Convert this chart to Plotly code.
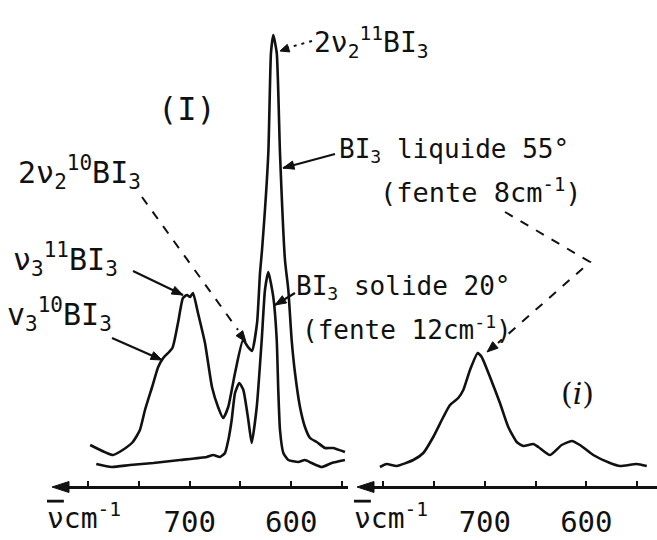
import math
import plotly.graph_objects as go

# ---------------- data (wavenumber cm-1, relative intensity) ----------------
# Panel (I): BI3 liquide 55 deg (fente 8 cm-1)
liq_nu = [798, 775.5, 766, 756, 749, 744, 737, 731, 726, 717, 711.5, 706.6, 702.6, 699.7,
          696.7, 691.8, 684.9, 678, 672, 667, 662, 655.3, 647.4, 642.5, 638.6, 633.6, 630.7,
          628.7, 622.5, 619.9, 617.6, 614.2, 611, 606.1, 602.8, 599.5, 596.2, 591.3, 586.4,
          581.4, 574.8, 566.7, 558.8, 547]
liq_int = [42, 32, 37, 45, 57, 77, 100, 120, 129, 139, 164, 189, 192, 190, 194, 174, 144, 100,
           80, 69, 80, 114, 147, 140, 136, 164, 214, 237, 334, 434, 452, 434, 334, 227, 197,
           147, 114, 80, 60, 49, 45, 39, 39, 35]

# Panel (I): BI3 solide 20 deg (fente 12 cm-1)
sol_nu = [792, 776.8, 758.8, 735.8, 709.5, 683.2, 676.7, 670.1, 665.2, 661.9, 658.6, 655.3,
          651.1, 647.1, 642.2, 638.9, 633.9, 629, 625.8, 622.5, 617.6, 614.2, 612.7, 611,
          607.7, 602.8, 593, 586.4, 579.8, 569.9, 560, 547]
sol_int = [23, 20, 22, 24, 27, 30, 32, 30, 34, 47, 67, 94, 104, 97, 67, 44, 80, 147, 197, 215,
           190, 147, 97, 57, 34, 27, 25, 27, 24, 20, 24, 27]

# Panel (i)
r_nu = [803.3, 796.7, 786.8, 770.5, 760.6, 750.8, 740.9, 734.3, 726.2, 721.2, 714.6, 707,
        703.1, 694.9, 685.1, 676.9, 668.6, 662.1, 652.3, 647.3, 635.8, 624.3, 614.4, 606.3,
        593.2, 576.7, 566.8, 550.4, 540.5]
r_int = [20, 23, 21, 27, 34, 50, 70, 82, 89, 97, 117, 134, 130, 110, 84, 60, 45, 41, 43, 40,
         32, 42, 46, 42, 32, 24, 21, 23, 21]

tick_vals = [700, 600]
tick_text = ["700", "600"]
minor_step = 50
axis_title = '<span style="text-decoration:overline">ν</span>cm<sup>-1</sup>'

# ---------------- figure ----------------
W, H = 657, 540
FONT = "DejaVu Sans Mono, monospace"
INK = "#111111"


def fx(p):
    return p / W


def fy(p):
    return 1 - p / H


fig = go.Figure()
line = dict(color=INK, width=2.6, shape="spline", smoothing=0.5)
fig.add_trace(go.Scatter(x=liq_nu, y=liq_int, mode="lines", line=line, xaxis="x", yaxis="y",
                         showlegend=False, hoverinfo="skip", cliponaxis=False))
fig.add_trace(go.Scatter(x=sol_nu, y=sol_int, mode="lines", line=line, xaxis="x", yaxis="y",
                         showlegend=False, hoverinfo="skip", cliponaxis=False))
fig.add_trace(go.Scatter(x=r_nu, y=r_int, mode="lines", line=line, xaxis="x2", yaxis="y",
                         showlegend=False, hoverinfo="skip", cliponaxis=False))

axis_common = dict(anchor="free", position=53 / H, showline=True, linewidth=2.6,
                   linecolor=INK, showgrid=False,
                   zeroline=False, tickmode="array", tickvals=tick_vals, ticktext=tick_text,
                   ticks="inside", ticklen=5, tickwidth=2, tickcolor=INK,
                   ticklabelstandoff=8,
                   minor=dict(ticks="inside", ticklen=5, tickwidth=2, tickcolor=INK,
                              tick0=0, dtick=minor_step, showgrid=False),
                   tickfont=dict(family=FONT, size=29, color=INK), fixedrange=True)

# axis lines run from the arrow tip (high wavenumber) to the low-wavenumber end
fig.update_layout(
    width=W, height=H, autosize=False,
    margin=dict(l=0, r=0, t=0, b=0, pad=0),
    paper_bgcolor="white", plot_bgcolor="white",
    xaxis=dict(domain=[58 / W, 348 / W], range=[829.7, 544.0], **axis_common),
    xaxis2=dict(domain=[363 / W, 1], range=[820.0, 530.4], **axis_common),
    yaxis=dict(domain=[0, 1], range=[-53, 487], visible=False, fixedrange=True),
)

ann = []
# axis titles
for cx in (84, 391):
    ann.append(dict(x=fx(cx), y=fy(516), xref="paper", yref="paper", text=axis_title,
                    showarrow=False, xanchor="center", yanchor="middle",
                    font=dict(family=FONT, size=28, color=INK)))


def text(t, x, y, size=26, xanchor="left"):
    ann.append(dict(x=fx(x), y=fy(y), xref="paper", yref="paper", text=t, showarrow=False,
                    xanchor=xanchor, yanchor="middle",
                    font=dict(family=FONT, size=size, color=INK)))


text("2ν<sub>2</sub><sup>11</sup>BI<sub>3</sub>", 312, 43, size=28)
text("(I)", 187, 109, size=32, xanchor="center")
text("2ν<sub>2</sub><sup>10</sup>BI<sub>3</sub>", 16, 172, size=30)
text("ν<sub>3</sub><sup>11</sup>BI<sub>3</sub>", 11, 260, size=30)
text("v<sub>3</sub><sup>10</sup>BI<sub>3</sub>", 5, 314, size=30)
text("BI<sub>3</sub> liquide 55°", 337, 150)
text("(fente 8cm<sup>-1</sup>)", 378, 190, size=27)
text("BI<sub>3</sub> solide 20°", 294, 287)
text("(fente 12cm<sup>-1</sup>)", 300, 328)
ann.append(dict(x=fx(577), y=fy(393), xref="paper", yref="paper", text="(<i>i</i>)",
                showarrow=False, xanchor="center", yanchor="middle",
                font=dict(family="DejaVu Serif, serif", size=30, color=INK)))
fig.update_layout(annotations=ann)


# ---------------- lines and arrowheads (pixel layout -> paper) ----------------
def path(pts, close=False):
    s = "M " + " L ".join(f"{fx(a):.5f},{fy(b):.5f}" for a, b in pts)
    return s + (" Z" if close else "")


shapes = []


def seg(pts, width=2.2, dash="solid"):
    shapes.append(dict(type="path", path=path(pts), xref="paper", yref="paper",
                       line=dict(color=INK, width=width, dash=dash)))


def head(tip, tail, length=11, half=4.2):
    dx, dy = tip[0] - tail[0], tip[1] - tail[1]
    n = math.hypot(dx, dy)
    ux, uy = dx / n, dy / n
    bx, by = tip[0] - length * ux, tip[1] - length * uy
    px_, py_ = -uy, ux
    tri = [tip, (bx + half * px_, by + half * py_), (bx - half * px_, by - half * py_)]
    shapes.append(dict(type="path", path=path(tri, close=True), xref="paper", yref="paper",
                       fillcolor=INK, line=dict(color=INK, width=1)))


def arrow(tip, tail, length=11, half=4.2):
    seg([tail, tip])
    head(tip, tail, length, half)


# axis arrowheads (the lines themselves are the axes)
head((52, 487), (100, 487), length=17, half=5.5)
head((357, 487), (400, 487), length=17, half=5.5)

# dotted / dashed leaders
seg([(312, 41), (287, 48)], width=2, dash="3px,5px")
head((280, 51), (289, 48), length=9, half=4)
seg([(142, 197), (238, 330)], width=2, dash="9px,9px")
head((246, 342), (234, 326))
seg([(505, 212), (590, 262), (498, 343)], width=2, dash="9px,9px")
head((487, 352), (500, 341))

# solid label arrows
arrow((283, 168), (335, 154))
arrow((183, 295), (133, 271))
arrow((162, 360), (112, 338))
arrow((275, 305), (295, 293))

fig.update_layout(shapes=shapes)

fig.write_html("out.html")
